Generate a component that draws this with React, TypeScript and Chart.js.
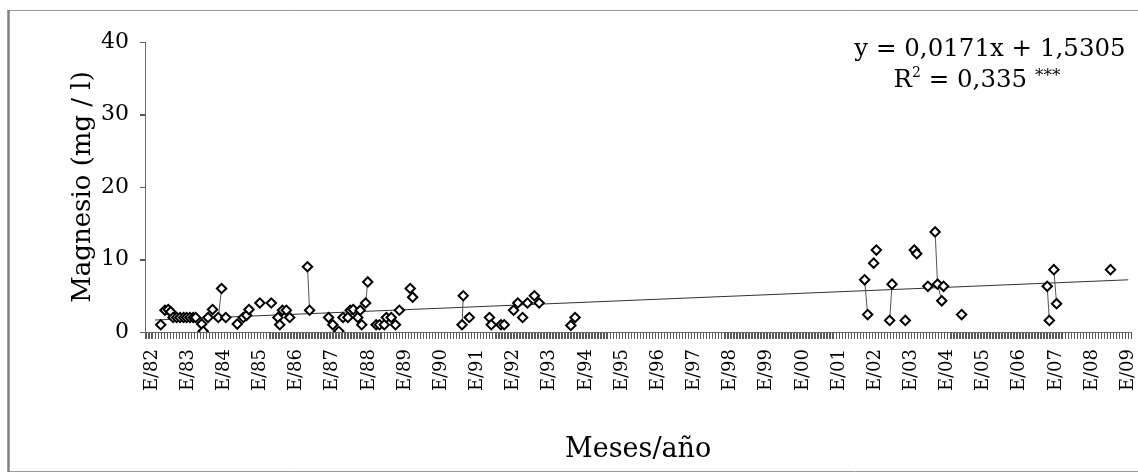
import { useEffect, useRef } from 'react';
import { Chart, registerables } from 'chart.js';

Chart.register(...registerables);

// ---- data ----
const yearLabels = [
  'E/82', 'E/83', 'E/84', 'E/85', 'E/86', 'E/87', 'E/88', 'E/89', 'E/90', 'E/91',
  'E/92', 'E/93', 'E/94', 'E/95', 'E/96', 'E/97', 'E/98', 'E/99', 'E/00', 'E/01',
  'E/02', 'E/03', 'E/04', 'E/05', 'E/06', 'E/07', 'E/08', 'E/09',
];

// months elapsed since January 1982
const sampleMonths = [
  2.9, 4.3, 5.4, 6.2, 7.0, 8.2, 9.3, 10.5, 11.5, 12.6, 13.7, 14.5,
  16.5, 17.0, 18.6, 20.1, 22.0, 23.1, 24.5, 28.3, 30.3, 31.4, 32.2,
  35.8, 39.6, 41.8, 42.4, 43.3, 44.6, 45.7, 51.6, 52.3,
  58.6, 60.0, 62.0, 63.4, 65.0, 65.8, 66.8, 68.3, 69.1, 69.6, 70.9, 71.6,
  74.4, 75.5, 77.1, 77.8, 79.4, 80.8, 82.1, 85.7, 86.5,
  102.9, 103.3, 105.3, 112.0, 112.6, 115.8, 116.9,
  120.0, 121.4, 123.0, 124.6, 126.9, 128.5, 139.0, 140.4,
  236.5, 237.5, 239.5, 240.4, 244.8, 245.6, 250.0, 253.0, 253.8,
  257.5, 259.9, 260.7, 262.1, 262.7, 268.7,
  297.1, 297.8, 299.3, 300.2, 318.1,
];

// Magnesio (mg / l)
const magnesio = [
  1.0, 3.0, 3.1, 2.8, 2.0, 2.0, 2.0, 2.0, 2.0, 2.0, 2.0, 2.0,
  1.1, 0.1, 2.0, 3.1, 2.0, 6.0, 2.0, 1.1, 2.0, 2.3, 3.1,
  4.0, 4.0, 2.0, 1.0, 3.0, 3.0, 2.0, 9.0, 3.0,
  2.0, 1.0, 0.1, 2.0, 2.0, 3.0, 3.1, 2.0, 3.0, 1.0, 4.0, 6.9,
  1.0, 1.0, 1.0, 2.0, 2.0, 1.0, 3.0, 6.0, 4.8,
  1.0, 5.0, 2.0, 2.0, 1.0, 1.0, 1.0,
  3.0, 4.0, 2.0, 4.0, 5.0, 4.0, 0.9, 2.0,
  7.2, 2.4, 9.5, 11.3, 1.6, 6.6, 1.6, 11.3, 10.8,
  6.3, 13.8, 6.6, 4.3, 6.3, 2.4,
  6.3, 1.6, 8.6, 3.9, 8.6,
];

// 1 = a connecting line joins this sample to the previous one
const linkedToPrevious = [
  0, 0, 0, 0, 0, 0, 0, 0, 0, 0, 0, 0,
  0, 0, 0, 0, 0, 1, 0, 0, 0, 0, 0,
  0, 0, 0, 0, 0, 0, 0, 0, 1,
  0, 0, 0, 0, 0, 0, 0, 0, 0, 0, 0, 1,
  0, 0, 0, 0, 0, 0, 0, 0, 0,
  0, 1, 0, 0, 0, 0, 0,
  0, 0, 0, 0, 0, 0, 0, 0,
  0, 1, 0, 0, 0, 1, 0, 0, 0,
  0, 0, 1, 1, 0, 0,
  0, 1, 0, 1, 0,
];

// linear trend (endpoints)
const trendMonths = [1, 324];
const trendValues = [1.65, 7.2];

// axis range in months since January 1982, one tick mark per month
const xMin = -2.32;
const xMax = 325;
const firstMonthTick = -2;
const lastMonthTick = 325;

const equationText = 'y = 0,0171x + 1,5305';
const r2Text = '0,335';
const yAxisTitle = 'Magnesio (mg / l)';
const xAxisTitle = 'Meses/año';

const SERIF = "'DejaVu Serif', 'Liberation Serif', serif";
const AXIS_GREY = '#6a6a6a';
const TICK_GREY = '#5a5a5a';
const X_TICK_LEN = 7;
const Y_TICK_LEN = 5;

const framePlugin = {
  id: 'frame',
  beforeDraw(chart: any) {
    const { ctx, width, height } = chart;
    ctx.save();
    ctx.fillStyle = '#ffffff';
    ctx.fillRect(0, 0, width, height);
    ctx.strokeStyle = '#9a9a9a';
    ctx.lineWidth = 1;
    ctx.beginPath();
    ctx.moveTo(8, 10.5);
    ctx.lineTo(width, 10.5);
    ctx.moveTo(8, 471.5);
    ctx.lineTo(width, 471.5);
    ctx.stroke();
    ctx.strokeStyle = '#808080';
    ctx.lineWidth = 2.5;
    ctx.beginPath();
    ctx.moveTo(8.5, 10);
    ctx.lineTo(8.5, 472);
    ctx.stroke();
    ctx.restore();
  },
};

// tick marks on both axes, placed through the scales' own tick list
const tickMarksPlugin = {
  id: 'tickMarks',
  afterDraw(chart: any) {
    const { ctx, chartArea } = chart;
    const xs = chart.scales.x;
    const ys = chart.scales.y;
    ctx.save();
    ctx.strokeStyle = TICK_GREY;
    ctx.lineWidth = 1;
    ctx.beginPath();
    for (const t of xs.ticks) {
      const px = Math.round(xs.getPixelForValue(t.value)) + 0.5;
      if (px < chartArea.left - 0.5 || px > chartArea.right + 0.5) continue;
      ctx.moveTo(px, chartArea.bottom);
      ctx.lineTo(px, chartArea.bottom + X_TICK_LEN);
    }
    for (const t of ys.ticks) {
      const py = Math.round(ys.getPixelForValue(t.value)) + 0.5;
      ctx.moveTo(chartArea.left - Y_TICK_LEN, py);
      ctx.lineTo(chartArea.left, py);
    }
    ctx.stroke();
    ctx.restore();
  },
};

const equationPlugin = {
  id: 'equation',
  afterDraw(chart: any) {
    const { ctx } = chart;
    ctx.save();
    ctx.fillStyle = '#000';
    ctx.textBaseline = 'alphabetic';
    ctx.textAlign = 'left';
    const big = `24.5px ${SERIF}`;
    const sup = `14px ${SERIF}`;
    const stars = `17px ${SERIF}`;
    ctx.font = big;
    const w1 = ctx.measureText(equationText).width;
    ctx.fillText(equationText, 990 - w1 / 2, 56);

    const parts = [
      { t: 'R', f: big, dy: 0 },
      { t: '2', f: sup, dy: -10 },
      { t: ' = ' + r2Text + ' ', f: big, dy: 0 },
      { t: '***', f: stars, dy: -6 },
    ];
    let total = 0;
    for (const p of parts) {
      ctx.font = p.f;
      total += ctx.measureText(p.t).width;
    }
    let x = 977 - total / 2;
    for (const p of parts) {
      ctx.font = p.f;
      ctx.fillText(p.t, x, 87 + p.dy);
      x += ctx.measureText(p.t).width;
    }
    ctx.restore();
  },
};

export default function App() {
  const canvasRef = useRef<HTMLCanvasElement | null>(null);

  useEffect(() => {
    if (!canvasRef.current) return;
    Chart.defaults.font.family = SERIF;
    Chart.defaults.color = '#000';

    const points = sampleMonths.map((m, i) => ({ x: m, y: magnesio[i] }));
    const trend = trendMonths.map((m, i) => ({ x: m, y: trendValues[i] }));

    const chart = new Chart(canvasRef.current, {
      type: 'scatter',
      data: {
        datasets: [
          {
            label: 'Magnesio',
            data: points,
            showLine: true,
            borderColor: '#555',
            borderWidth: 1,
            segment: {
              borderColor: (c: any) => (linkedToPrevious[c.p1DataIndex] ? '#555' : 'rgba(0,0,0,0)'),
            },
            pointStyle: 'rectRot',
            pointRadius: 4.7,
            pointBorderWidth: 2,
            pointBorderColor: '#000',
            pointBackgroundColor: '#fff',
          },
          {
            label: 'Tendencia',
            data: trend,
            showLine: true,
            borderColor: '#333',
            borderWidth: 1,
            pointRadius: 0,
          },
        ],
      },
      options: {
        responsive: false,
        animation: false,
        devicePixelRatio: 1,
        layout: { padding: { left: 64, right: 5, top: 42, bottom: 4 } },
        plugins: {
          legend: { display: false },
          tooltip: { enabled: false },
        },
        scales: {
          x: {
            type: 'linear',
            min: xMin,
            max: xMax,
            grid: {
              display: true,
              drawOnChartArea: false,
              drawTicks: true,
              tickLength: X_TICK_LEN,
              lineWidth: 1,
              color: TICK_GREY,
              tickColor: TICK_GREY,
              tickWidth: 1,
            },
            border: { display: true, color: AXIS_GREY, width: 1 },
            ticks: {
              autoSkip: false,
              maxTicksLimit: 1000,
              minRotation: 90,
              maxRotation: 90,
              padding: 10,
              font: { size: 18, family: SERIF },
              color: '#000',
              callback: (value: any) => {
                const v = Number(value);
                const r = Math.round(v);
                if (Math.abs(v - r) > 1e-6 || r < 0 || r % 12 !== 0) return '';
                return yearLabels[r / 12] ?? '';
              },
            },
            afterBuildTicks: (scale: any) => {
              const t: { value: number }[] = [];
              for (let m = firstMonthTick; m <= lastMonthTick; m++) t.push({ value: m });
              scale.ticks = t;
            },
            title: {
              display: true,
              text: xAxisTitle,
              font: { size: 27, family: SERIF },
              color: '#000',
              padding: { top: 4, bottom: 4 },
            },
            afterFit: (scale: any) => {
              scale.height = 474 - 4 - 332;
              scale.paddingLeft = 0;
              scale.paddingRight = 0;
            },
          },
          y: {
            type: 'linear',
            min: 0,
            max: 40,
            grid: {
              display: true,
              drawOnChartArea: false,
              drawTicks: true,
              tickLength: Y_TICK_LEN,
              lineWidth: 1,
              color: TICK_GREY,
              tickColor: TICK_GREY,
              tickWidth: 1,
            },
            border: { display: true, color: AXIS_GREY, width: 1 },
            ticks: {
              stepSize: 10,
              padding: 11,
              font: { size: 22, family: SERIF },
              color: '#000',
            },
            title: {
              display: true,
              text: yAxisTitle,
              font: { size: 26, family: SERIF },
              color: '#000',
              padding: { top: 4, bottom: 4 },
            },
            afterFit: (scale: any) => {
              scale.width = 145 - 64;
            },
          },
        },
      },
      plugins: [framePlugin, tickMarksPlugin, equationPlugin],
    });

    return () => chart.destroy();
  }, []);

  return (
    <div style={{ position: 'fixed', left: 0, top: 0, width: 1138, height: 474, background: '#fff' }}>
      <canvas ref={canvasRef} width={1138} height={474} style={{ display: 'block' }} />
    </div>
  );
}
